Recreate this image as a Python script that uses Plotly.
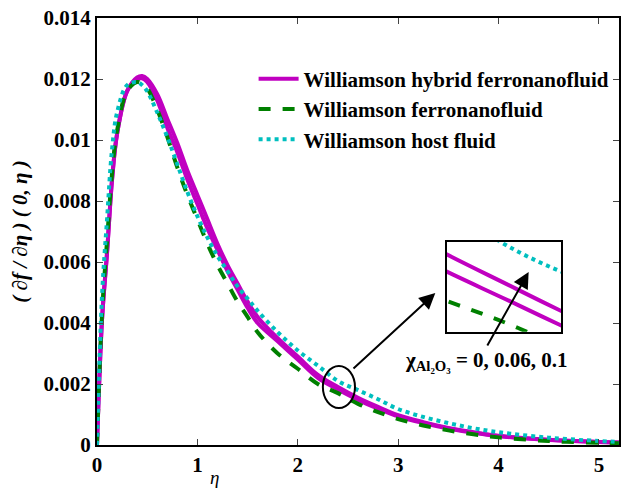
import plotly.graph_objects as go

eta = [0, 0.05, 0.1, 0.15, 0.2, 0.3, 0.4, 0.45, 0.5, 0.6, 0.7, 0.8, 0.9, 1.0, 1.1, 1.2, 1.3, 1.4, 1.5, 1.6, 1.8,
       2.0, 2.2, 2.4, 2.6, 2.8, 3.0, 3.25, 3.5, 3.75, 4.0, 4.5, 5.0, 5.2]
hybrid_01 = [0, 0.0041, 0.0063, 0.0087, 0.0102, 0.0116, 0.01205, 0.01210, 0.01200, 0.0115, 0.0107, 0.0099, 0.0090,
             0.0082, 0.0074, 0.0066, 0.0059, 0.0053, 0.0047, 0.0042, 0.0035, 0.0029, 0.0023, 0.0019, 0.00155,
             0.00125, 0.00098, 0.00075, 0.00056, 0.00042, 0.00030, 0.00017, 0.00010, 0.00008]
hybrid_006 = [0, 0.0041, 0.0063, 0.0087, 0.0102, 0.0116, 0.0120, 0.01202, 0.0119, 0.0113, 0.0104, 0.0096, 0.0087,
              0.0079, 0.0071, 0.0064, 0.0057, 0.0051, 0.0045, 0.0040, 0.0034, 0.0028, 0.0022, 0.00182, 0.00148,
              0.00119, 0.00094, 0.00072, 0.00054, 0.00040, 0.00029, 0.00016, 0.00010, 0.00008]
ferro = [0, 0.0043, 0.0067, 0.0089, 0.0103, 0.0116, 0.0119, 0.01185, 0.0117, 0.0110, 0.0101, 0.0091, 0.0082,
         0.0074, 0.0066, 0.0059, 0.0053, 0.0047, 0.0042, 0.0037, 0.0030, 0.0025, 0.0020, 0.0017, 0.00135,
         0.00108, 0.00085, 0.00064, 0.00048, 0.00035, 0.00025, 0.00013, 0.00007, 0.00006]
host = [0, 0.0049, 0.0074, 0.0097, 0.0109, 0.0118, 0.0119, 0.01180, 0.0116, 0.0109, 0.0101, 0.0092, 0.0083,
        0.0075, 0.0068, 0.0062, 0.0057, 0.0052, 0.0048, 0.0044, 0.0037, 0.0031, 0.0026, 0.0021, 0.0018,
        0.0015, 0.00118, 0.00092, 0.00072, 0.00055, 0.00042, 0.00024, 0.00013, 0.00010]

xticks = [0, 1, 2, 3, 4, 5]
yticks = [0, 0.002, 0.004, 0.006, 0.008, 0.01, 0.012, 0.014]
yticklabels = ["0", "0.002", "0.004", "0.006", "0.008", "0.01", "0.012", "0.014"]

MAG = "#C000C0"
GRN = "#008000"
CYN = "#00BFBF"
FONT = "Times New Roman, Liberation Serif, serif"

fig = go.Figure()

def add_set(xa, ya, legend):
    fig.add_trace(go.Scatter(x=eta, y=hybrid_01, mode="lines", line=dict(color=MAG, width=4, shape="spline"),
                             name="<b>Williamson hybrid ferronanofluid</b>", showlegend=legend, xaxis=xa, yaxis=ya))
    fig.add_trace(go.Scatter(x=eta, y=hybrid_006, mode="lines", line=dict(color=MAG, width=4, shape="spline"),
                             name="hybrid 0.06", showlegend=False, xaxis=xa, yaxis=ya))
    fig.add_trace(go.Scatter(x=eta, y=ferro, mode="lines", line=dict(color=GRN, width=4, dash="dash", shape="spline"),
                             name="<b>Williamson ferronanofluid</b>", showlegend=legend, xaxis=xa, yaxis=ya))
    fig.add_trace(go.Scatter(x=eta, y=host, mode="lines", line=dict(color=CYN, width=4, dash="dot", shape="spline"),
                             name="<b>Williamson host fluid</b>", showlegend=legend, xaxis=xa, yaxis=ya))

add_set("x", "y", True)
add_set("x2", "y2", False)

fig.update_layout(
    width=621, height=489,
    margin=dict(l=97, r=0, t=18, b=44),
    paper_bgcolor="white", plot_bgcolor="white",
    font=dict(family=FONT, color="black"),
    xaxis=dict(range=[0, 5.2], tickvals=xticks, ticktext=["<b>%d</b>" % v for v in xticks],
               ticks="inside", ticklen=6, tickwidth=1,
               showline=True, linecolor="black", linewidth=2, mirror="ticks", showgrid=False, zeroline=False,
               tickfont=dict(size=21, family=FONT)),
    yaxis=dict(range=[0, 0.014], tickvals=yticks, ticktext=["<b>%s</b>" % t for t in yticklabels],
               ticks="inside", ticklen=6, tickwidth=1,
               showline=True, linecolor="black", linewidth=2, mirror="ticks", showgrid=False, zeroline=False,
               tickfont=dict(size=21, family=FONT),
               title=dict(text="<b><i>( ∂f / ∂η ) ( 0, η )</i></b>", font=dict(size=21, family=FONT), standoff=10)),
    xaxis2=dict(domain=[0.670, 0.889], anchor="y2", range=[2.30, 2.46], showticklabels=False, ticks="",
                showline=True, linecolor="black", linewidth=2, mirror=True, showgrid=False, zeroline=False),
    yaxis2=dict(domain=[0.265, 0.475], anchor="x2", range=[0.00168, 0.00215], showticklabels=False, ticks="",
                showline=True, linecolor="black", linewidth=2, mirror=True, showgrid=False, zeroline=False),
    legend=dict(x=0.30, y=0.905, xanchor="left", yanchor="top", bgcolor="rgba(0,0,0,0)",
                font=dict(size=21, family=FONT), itemwidth=40, tracegroupgap=0),
    showlegend=True,
)

fig.add_annotation(x=0.225, y=-0.077, xref="paper", yref="paper", showarrow=False,
                   text="<i>η</i>", font=dict(size=19, family=FONT), xanchor="center", yanchor="middle")

fig.add_shape(type="circle", xref="x", yref="y", x0=2.25, x1=2.57, y0=0.00121, y1=0.00259,
              line=dict(color="black", width=2))

fig.add_annotation(x=3.37, y=0.00498, ax=2.54, ay=0.00246, xref="x", yref="y", axref="x", ayref="y",
                   showarrow=True, arrowhead=2, arrowsize=1.6, arrowwidth=2, arrowcolor="black", text="")
fig.add_annotation(x=4.30, y=0.00567, ax=3.88, ay=0.00321, xref="x", yref="y", axref="x", ayref="y",
                   showarrow=True, arrowhead=2, arrowsize=1.6, arrowwidth=2, arrowcolor="black", text="")
fig.add_annotation(x=3.05, y=0.00275, xref="x", yref="y", xanchor="left", yanchor="middle", showarrow=False,
                   text="<b>χ<sub>Al₂O₃</sub> = 0, 0.06, 0.1</b>", font=dict(size=21, family=FONT))

fig.write_html("out.html")
